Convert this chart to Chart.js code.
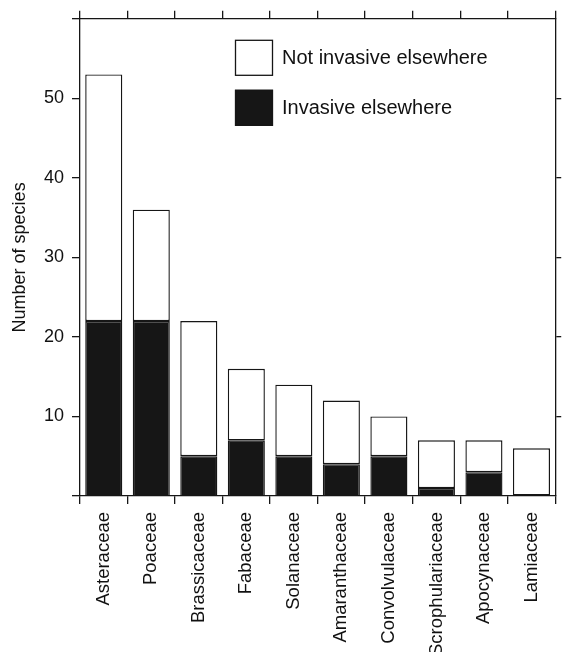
<!DOCTYPE html>
<html>
<head>
<meta charset="utf-8">
<script src="https://cdn.jsdelivr.net/npm/chart.js@4/dist/chart.umd.min.js"></script>
<style>
  body { margin: 0; background: #fff; }
  #wrap { width: 562px; height: 652px; position: relative; }
</style>
</head>
<body>
<div id="wrap"><canvas id="canvas"></canvas></div>
<script>
// familias y numero de especies
var familias = ["Asteraceae", "Poaceae", "Brassicaceae", "Fabaceae", "Solanaceae",
  "Amaranthaceae", "Convolvulaceae", "Scrophulariaceae", "Apocynaceae", "Lamiaceae"];
var invasoras = [22, 22, 5, 7, 5, 4, 5, 1, 3, 0];
var noInvasoras = [31, 14, 17, 9, 9, 8, 5, 6, 4, 6];
var yTicks = [10, 20, 30, 40, 50];

var fuente = "'Liberation Sans', Arial, sans-serif";
var negro = "#161616";

// leyenda dibujada dentro del area del grafico
var leyendaPlugin = {
  id: "leyendaInterna",
  afterDraw: function (chart) {
    var c = chart.ctx;
    var a = chart.chartArea;
    var x = a.left + 155;
    var items = [chart.data.datasets[1], chart.data.datasets[0]];
    var ys = [39, 89];
    c.save();
    for (var i = 0; i < items.length; i++) {
      var ds = items[i];
      var y = a.top + ys[i] - 18;
      c.fillStyle = ds.backgroundColor;
      c.fillRect(x, y, 38, 36);
      c.strokeStyle = negro;
      c.lineWidth = 1.3;
      c.strokeRect(x + 0.5, y + 0.5, 37, 35);
      c.fillStyle = "#111";
      c.font = "20px " + fuente;
      c.textBaseline = "middle";
      c.fillText(ds.label, x + 47, y + 19);
    }
    c.restore();
  }
};

var ctx = document.getElementById("canvas").getContext("2d");
window.myBar = new Chart(ctx, {
  type: "bar",
  data: {
    labels: familias,
    datasets: [
      {
        label: "Invasive elsewhere",
        data: invasoras,
        backgroundColor: negro,
        borderColor: negro,
        borderWidth: 1.4,
        barPercentage: 0.78,
        categoryPercentage: 1,
      },
      {
        label: "Not invasive elsewhere",
        data: noInvasoras,
        backgroundColor: "#ffffff",
        borderColor: negro,
        borderWidth: 1.4,
        borderSkipped: false,
        barPercentage: 0.78,
        categoryPercentage: 1,
      },
    ],
  },
  options: {
    responsive: true,
    maintainAspectRatio: false,
    animation: false,
    layout: { padding: 0 },
    plugins: {
      legend: { display: false },
      tooltip: { enabled: false },
    },
    scales: {
      x: {
        stacked: true,
        position: "bottom",
        grid: { offset: true, drawOnChartArea: false, tickLength: 8, color: negro, lineWidth: 1.3 },
        border: { display: true, color: negro, width: 1.3 },
        ticks: {
          minRotation: 90, maxRotation: 90, autoSkip: false, padding: 8,
          color: "#111", font: { family: fuente, size: 18.5 },
        },
        afterFit: function (s) { s.height = 156; },
      },
      x2: {
        type: "category",
        position: "top",
        labels: familias,
        grid: { offset: true, drawOnChartArea: false, tickLength: 8, color: negro, lineWidth: 1.3 },
        border: { display: true, color: negro, width: 1.3 },
        ticks: { display: false },
        afterFit: function (s) { s.height = 18; },
      },
      y: {
        stacked: true,
        min: 0,
        max: 60,
        position: "left",
        afterBuildTicks: function (s) {
          s.ticks = [0].concat(yTicks, [60]).map(function (v) { return { value: v }; });
        },
        ticks: {
          padding: 8, color: "#111", font: { family: fuente, size: 18 },
          callback: function (v) { return yTicks.indexOf(v) >= 0 ? v : ""; },
        },
        grid: { drawOnChartArea: false, tickLength: 8, color: negro, lineWidth: 1.3 },
        border: { display: true, color: negro, width: 1.3 },
        title: {
          display: true, text: "Number of species", color: "#111",
          font: { family: fuente, size: 18 }, padding: { top: 9, bottom: 0 },
        },
        afterFit: function (s) { s.width = 80; },
      },
      y2: {
        min: 0,
        max: 60,
        position: "right",
        afterBuildTicks: function (s) {
          s.ticks = yTicks.map(function (v) { return { value: v }; });
        },
        ticks: { display: false },
        grid: { drawOnChartArea: false, tickLength: 6, color: negro, lineWidth: 1.3 },
        border: { display: true, color: negro, width: 1.3 },
        afterFit: function (s) { s.width = 5; },
      },
    },
  },
  plugins: [leyendaPlugin],
});
</script>
</body>
</html>
